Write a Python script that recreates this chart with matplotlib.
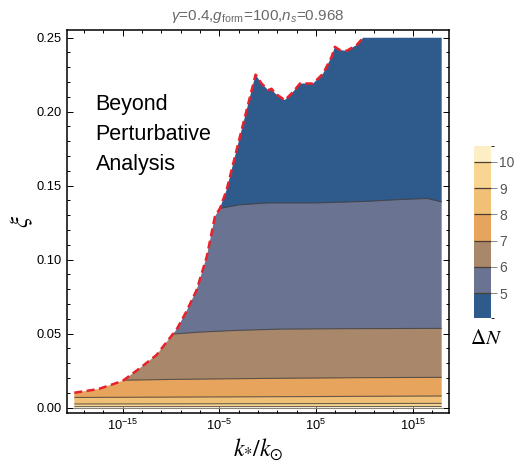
import numpy as np
import matplotlib
matplotlib.use("Agg")
import matplotlib.pyplot as plt
from matplotlib.patches import Polygon
from matplotlib.colors import ListedColormap, BoundaryNorm
from matplotlib.ticker import FixedLocator, FuncFormatter, MultipleLocator
import matplotlib.colorbar as mcolorbar

plt.rcParams['font.family'] = ['Liberation Sans', 'DejaVu Sans']
plt.rcParams['mathtext.fontset'] = 'custom'
plt.rcParams['mathtext.rm'] = 'Liberation Sans'
plt.rcParams['mathtext.it'] = 'Liberation Sans:italic'
plt.rcParams['mathtext.bf'] = 'Liberation Sans:bold'

# ---- data (log10 k*/k_sun, xi) ----
bound_logk = [-20, -17.5, -15, -13.2, -11.5, -9.8, -9.45, -8.4, -7.35, -6.3, -5.46, -4.94,
              -4.25, -2.7, -1.25, -0.63, 0.06, 0.4, 0.77, 1.78, 2.64, 3.34, 4.7, 5.74,
              6.61, 6.95, 7.47, 8.16, 9.2, 9.88]
bound_xi = [0.0100, 0.0125, 0.0180, 0.0267, 0.0355, 0.0497, 0.0524, 0.0650, 0.0794, 0.102,
            0.129, 0.1346, 0.147, 0.1875, 0.225, 0.219, 0.2145, 0.2155, 0.2123, 0.2078,
            0.2134, 0.219, 0.219, 0.2258, 0.237, 0.2438, 0.2416, 0.2411, 0.245, 0.250]

top_logk = [-20, 18]
top_xi = [0.25, 0.25]

lvl5_logk = [-20, -4.94, -3, 0, 5, 10, 14, 16.5, 18]
lvl5_xi = [0.1346, 0.1346, 0.1370, 0.1383, 0.1383, 0.1393, 0.1407, 0.1413, 0.1390]
lvl6_logk = [-20, -9.8, -7, -3, 1.3, 8, 18]
lvl6_xi = [0.0497, 0.0497, 0.0510, 0.0522, 0.0530, 0.0533, 0.0535]
lvl7_logk = [-20, -15.6, -10, 0, 10, 18]
lvl7_xi = [0.0184, 0.0184, 0.0190, 0.0197, 0.0202, 0.0204]
lvl8_logk = [-20, 0, 18]
lvl8_xi = [0.0068, 0.0073, 0.0078]
lvl9_logk = [-20, 18]
lvl9_xi = [0.0024, 0.0028]
lvl10_logk = [-20, 18]
lvl10_xi = [0.0006, 0.0007]
bottom_logk = [-20, 18]
bottom_xi = [0.0, 0.0]

cbar_levels = [4.04, 5, 6, 7, 8, 9, 10, 10.6]
cbar_ticks = [5, 6, 7, 8, 9, 10]
band_colors = ['#2E5A8C', '#6A7392', '#A8876B', '#E7A45D', '#F0C077', '#F8D692', '#FDEFC5']

x_ticks_exp = [-15, -5, 5, 15]
x_minor_exp = [-19, -17, -13, -11, -9, -7, -3, -1, 1, 3, 7, 9, 11, 13, 17]

# ---- figure ----
fig = plt.figure(figsize=(5.15, 4.66), dpi=100)
ax = fig.add_axes([0.130, 0.1137, 0.742, 0.822])
ax.set_xscale('log')

def X(lk):
    return 10.0 ** np.asarray(lk, dtype=float)

# clip region under boundary
clip_x = np.concatenate([X([-20]), X(bound_logk), X([18, 18])])
clip_y = np.concatenate([[0.0], bound_xi, [0.25, 0.0]])
clip_poly = Polygon(np.column_stack([clip_x, clip_y]), closed=True,
                    transform=ax.transData, facecolor='none', edgecolor='none')
ax.add_patch(clip_poly)

lines = [(bottom_logk, bottom_xi), (lvl10_logk, lvl10_xi), (lvl9_logk, lvl9_xi),
         (lvl8_logk, lvl8_xi), (lvl7_logk, lvl7_xi), (lvl6_logk, lvl6_xi),
         (lvl5_logk, lvl5_xi), (top_logk, top_xi)]
fill_cols = band_colors[::-1]  # from bottom (>10) to top (<5)
for i in range(len(lines) - 1):
    lo_k, lo_v = lines[i]
    up_k, up_v = lines[i + 1]
    px = np.concatenate([X(lo_k), X(up_k)[::-1]])
    py = np.concatenate([lo_v, up_v[::-1]])
    patches = ax.fill(px, py, color=fill_cols[i], lw=0.3, ec=fill_cols[i])
    for p in patches:
        p.set_clip_path(clip_poly)

for k, v in lines[1:-1]:
    ln, = ax.plot(X(k), v, color='#3f3a36', lw=0.8, alpha=0.75)
    ln.set_clip_path(clip_poly)
ln, = ax.plot(X(bottom_logk), bottom_xi, color='#8a8478', lw=0.8)

# red dashed boundary
ax.plot(X(bound_logk), bound_xi, color='#E8212B', lw=1.8, dashes=(3.2, 1.8))

ax.set_xlim(10 ** -20.76, 10 ** 18.76)
ax.set_ylim(-0.0037, 0.2552)

ax.xaxis.set_major_locator(FixedLocator(X(x_ticks_exp)))
ax.xaxis.set_minor_locator(FixedLocator(X(x_minor_exp)))
ax.xaxis.set_major_formatter(FuncFormatter(lambda v, p: r'$10^{%d}$' % int(round(np.log10(v)))))
ax.xaxis.set_minor_formatter(FuncFormatter(lambda v, p: ''))
ax.yaxis.set_major_locator(MultipleLocator(0.05))
ax.yaxis.set_minor_locator(MultipleLocator(0.01))
ax.yaxis.set_major_formatter(FuncFormatter(lambda v, p: '%.2f' % v))
ax.tick_params(which='both', direction='in', top=True, right=True, labelsize=9.3,
               colors='black', width=0.7)
ax.tick_params(which='major', length=4.5)
ax.tick_params(which='minor', length=2.5)
for s in ax.spines.values():
    s.set_linewidth(1.1)

ax.set_title(r'$\gamma$=0.4,$g_{\mathrm{form}}$=100,$n_s$=0.968', fontsize=11,
             color='#6a6a6a', pad=7)
ax.set_xlabel(r'$k_{*}/k_{\odot}$', fontsize=17, math_fontfamily='stix', labelpad=3)
ax.set_ylabel(r'$\xi$', fontsize=18, math_fontfamily='stix', rotation=90, labelpad=1)

ax.text(0.075, 0.832, 'Beyond\nPerturbative\nAnalysis', transform=ax.transAxes,
        fontsize=15.5, ha='left', va='top', linespacing=1.55, color='black')

# colorbar
cax = fig.add_axes([0.921, (466 - 318.3) / 466, 0.032, (318.3 - 146) / 466])
cmap = ListedColormap(band_colors)
norm = BoundaryNorm(cbar_levels, cmap.N)
cb = mcolorbar.ColorbarBase(cax, cmap=cmap, norm=norm, boundaries=cbar_levels,
                            ticks=cbar_ticks, drawedges=True, spacing='proportional')
cb.outline.set_visible(False)
cb.dividers.set_color('#4a3e33')
cb.dividers.set_linewidth(0.9)
cax.tick_params(length=4, width=0.7, color='#888888', labelsize=10, labelcolor='#555555', pad=2)
cax.set_yticklabels([str(t) for t in cbar_ticks])
fig.text(486 / 515, 1 - 338 / 466, r'$\Delta N$', fontsize=15, math_fontfamily='stix',
         ha='center', va='center')

fig.savefig('out.png', dpi=100)
